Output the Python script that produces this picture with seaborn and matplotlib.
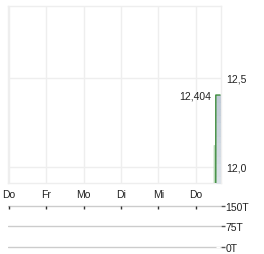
import numpy as np
import pandas as pd
import matplotlib
matplotlib.use("Agg")
import matplotlib.pyplot as plt
import seaborn as sns

# ---- data ----
day_labels = ["Do", "Fr", "Mo", "Di", "Mi", "Do"]
price_x = [5.54, 5.541, 5.655]
price_y = [11.85, 12.404, 12.404]
prev_x = [5.50, 5.501]
prev_y = [11.85, 12.12]
last_price_label = "12,404"
price_ticks = [12.0, 12.5]
price_tick_labels = ["12,0", "12,5"]
vol_ticks = [0, 75, 150]
vol_tick_labels = ["0T", "75T", "150T"]
vol_x = [5.6]
vol_y = [0]

sns.set_theme(style="white")
plt.rcParams['font.family'] = ['Liberation Sans', 'DejaVu Sans']

W, H = 264, 255
fig = plt.figure(figsize=(W / 100, H / 100), dpi=100)

def rect(x0, y0, x1, y1):
    return [x0 / W, 1 - y1 / H, (x1 - x0) / W, (y1 - y0) / H]

ax = fig.add_axes(rect(8, 7, 221, 184))
axv = fig.add_axes(rect(8, 205, 221, 250))

txt = "#222222"
fs = 7.5

df = pd.DataFrame({"x": price_x, "y": price_y})
dprev = pd.DataFrame({"x": prev_x, "y": prev_y})
xmin, xmax = -0.03, 5.68
ymin, ymax = 11.91, 12.904

# gradient-like fill under the line (stacked horizontal bands)
fx = np.array(price_x[1:])
fy = np.array(price_y[1:])
bands = np.linspace(ymin, fy.max(), 14)
cols = sns.blend_palette(["#dde4ea", "#bfcad6"], n_colors=len(bands) - 1)
for (lo, hi), c in zip(zip(bands[:-1], bands[1:]), cols):
    ax.fill_between(fx, np.minimum(fy, hi), lo, facecolor=c, edgecolor=c,
                    linewidth=0.6, zorder=2.6, antialiased=False)

sns.lineplot(data=dprev, x="x", y="y", ax=ax, color="#b8d8b8", linewidth=1.0,
             sort=False, estimator=None, zorder=2.7)
sns.lineplot(data=df, x="x", y="y", ax=ax, color="#3a8a3a", linewidth=1.0,
             sort=False, estimator=None, zorder=3)

ax.set_xlim(xmin, xmax)
ax.set_ylim(ymin, ymax)
ax.set_xticks(range(len(day_labels)))
ax.set_xticklabels(day_labels)
ax.set_yticks(price_ticks)
ax.set_yticklabels(price_tick_labels)
ax.yaxis.tick_right()
ax.grid(True, color="#eeeeee", linewidth=1)
ax.set_axisbelow(True)
ax.set_xlabel("")
ax.set_ylabel("")
for s in ax.spines.values():
    s.set_color("#eeeeee")
    s.set_linewidth(1)
ax.tick_params(axis="both", length=0, labelsize=fs, colors=txt)
ax.tick_params(axis="x", pad=4)
ax.tick_params(axis="y", pad=4)

ax.text(price_x[-1] - 0.24, price_y[-1], last_price_label, ha="right",
        va="center", fontsize=fs, color=txt)

# volume panel
axv.bar(vol_x, vol_y, width=0.1, color="#9aa7b5")
axv.set_xlim(xmin, xmax)
axv.set_ylim(-8, 158)
axv.set_yticks(vol_ticks)
axv.set_yticklabels(vol_tick_labels)
axv.yaxis.tick_right()
axv.grid(True, axis="y", color="#cccccc", linewidth=1)
axv.grid(False, axis="x")
for s in axv.spines.values():
    s.set_visible(False)
axv.tick_params(axis="y", length=3, width=1, color="#555555", labelsize=fs,
                colors=txt, pad=0)
axv.set_xticks([])
axv.patch.set_alpha(0)
for i in range(len(day_labels)):
    axv.plot([i, i], [150, 140], color="#333333", linewidth=1,
             solid_capstyle="butt")

fig.savefig("out.png", dpi=100)
